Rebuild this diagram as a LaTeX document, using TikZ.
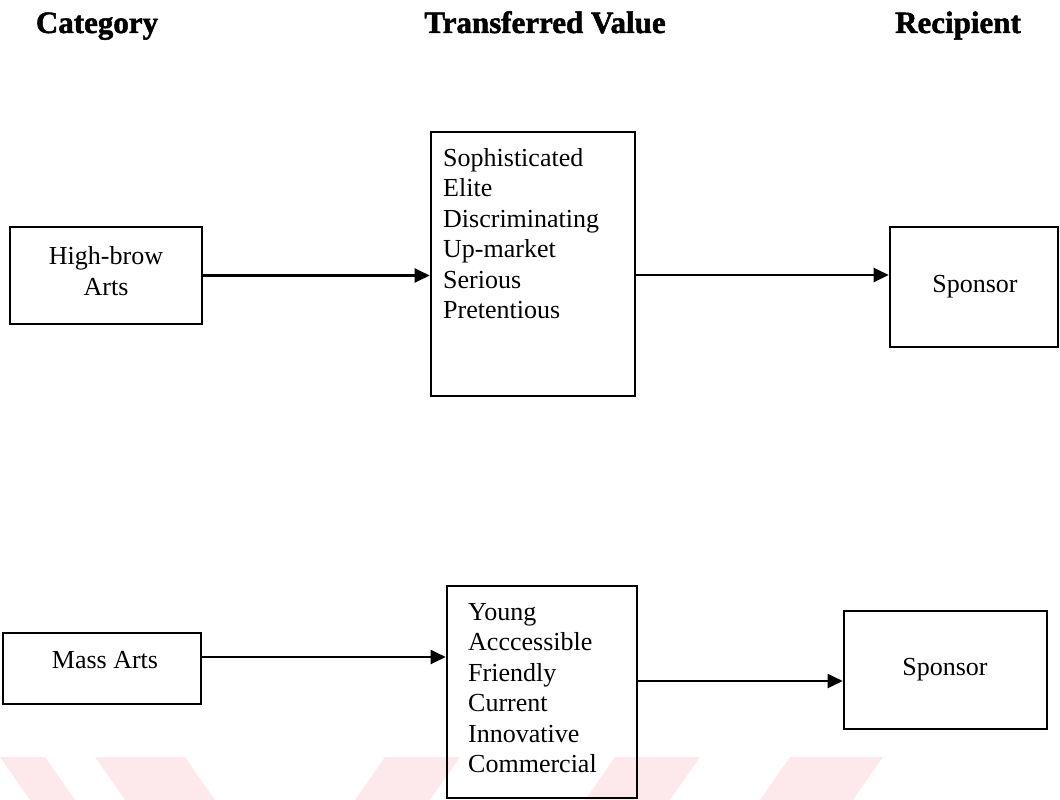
\documentclass[tikz,border=0pt]{standalone}
\usepackage{fontspec}
\setmainfont{Liberation Serif}
\newfontfamily\headfont[FakeBold=1.6]{Liberation Serif Bold}
\usetikzlibrary{arrows.meta}
\definecolor{wmpink}{RGB}{253,233,236}
\begin{document}
\begin{tikzpicture}[x=1pt,y=-1pt,
  box/.style={draw, line width=2.6pt, inner sep=0pt},
  head/.style={font=\fontsize{31}{36}\selectfont\headfont, inner sep=0pt},
  body/.style={font=\fontsize{26}{30.5}\selectfont, inner sep=0pt},
  arr/.style={line width=2.2pt, -{Triangle[length=15pt,width=14pt]}}]
\useasboundingbox (0,0) rectangle (1060,800);

% faint watermark strokes along the bottom edge
\fill[wmpink] (0,757) -- (45,757) -- (75,800) -- (30,800) -- cycle;
\fill[wmpink] (95,757) -- (185,757) -- (215,800) -- (125,800) -- cycle;
\fill[wmpink] (385,757) -- (460,757) -- (430,800) -- (355,800) -- cycle;
\fill[wmpink] (615,757) -- (700,757) -- (670,800) -- (585,800) -- cycle;
\fill[wmpink] (790,757) -- (883,757) -- (853,800) -- (760,800) -- cycle;

% column headings
\node[head, anchor=base] (hcat) at (97,33) {Category};
\node[head, anchor=base] (hval) at (545,33) {Transferred Value};
\node[head, anchor=base] (hrec) at (958,33) {Recipient};

% upper row
\node[box, minimum width=192pt, minimum height=97pt] (hb) at (106,275.5) {};
\node[body, align=center] (hbt) at (106,271) {High-brow\\Arts};
\node[box, minimum width=204pt, minimum height=264pt] (tv1) at (533,264) {};
\node[body, align=left, anchor=north west] (tv1t) at (443,148)
  {Sophisticated\\Elite\\Discriminating\\Up-market\\Serious\\Pretentious};
\node[box, minimum width=168pt, minimum height=120pt] (sp1) at (974,287) {};
\node[body] (sp1t) at (975,287) {Sponsor};

% lower row
\node[box, minimum width=198pt, minimum height=71pt] (ma) at (102,668.5) {};
\node[body] (mat) at (105,660) {Mass Arts};
\node[box, minimum width=190pt, minimum height=212pt] (tv2) at (542,692) {};
\node[body, align=left, anchor=north west] (tv2t) at (468,603)
  {Young\\Acccessible\\Friendly\\Current\\Innovative\\Commercial};
\node[box, minimum width=203pt, minimum height=118pt] (sp2) at (945.5,670) {};
\node[body] (sp2t) at (945,670) {Sponsor};

% connectors
\draw[arr] (hb.east) -- (hb.east -| tv1.west);
\draw[arr] (tv1.east |- 0,275) -- (sp1.west |- 0,275);
\draw[arr] (ma.east |- 0,657) -- (tv2.west |- 0,657);
\draw[arr] (tv2.east |- 0,681) -- (sp2.west |- 0,681);
\end{tikzpicture}
\end{document}
